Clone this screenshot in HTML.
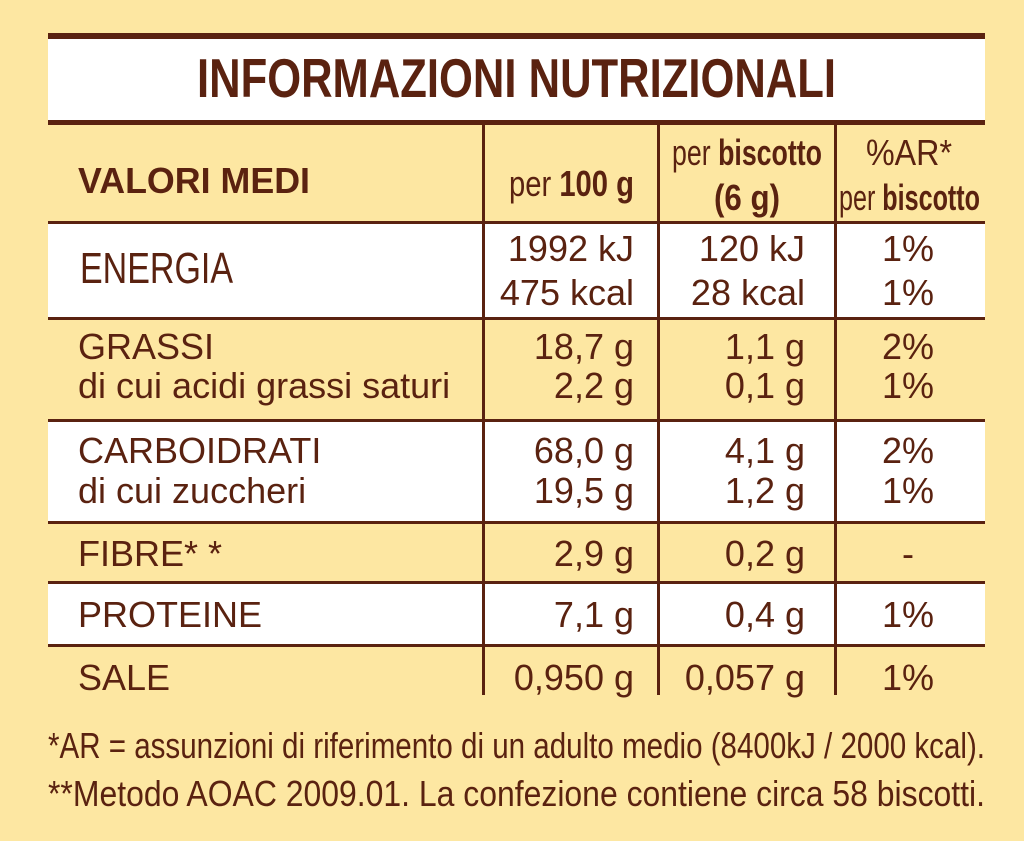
<!DOCTYPE html>
<html><head><meta charset="utf-8"><style>
html,body{margin:0;padding:0;background:#fde7a2;}
svg{display:block}
text{font-family:"Liberation Sans Narrow","Liberation Sans",sans-serif;fill:#5a2210;}
</style></head><body>
<svg width="1024" height="841" viewBox="0 0 1024 841" xmlns="http://www.w3.org/2000/svg">
<rect width="1024" height="841" fill="#fde7a2"/>
<rect x="48" y="39" width="937" height="82" fill="#fff"/>
<rect x="48" y="223" width="937" height="95" fill="#fff"/>
<rect x="48" y="421" width="937" height="101" fill="#fff"/>
<rect x="48" y="583" width="937" height="62" fill="#fff"/>
<g fill="#5a2210">
<rect x="48" y="33" width="937" height="6"/>
<rect x="48" y="120" width="937" height="5"/>
<rect x="48" y="221" width="937" height="3"/>
<rect x="48" y="317" width="937" height="3"/>
<rect x="48" y="419" width="937" height="3"/>
<rect x="48" y="521" width="937" height="3"/>
<rect x="48" y="581" width="937" height="3"/>
<rect x="48" y="644" width="937" height="3"/>
<rect x="482" y="125" width="3" height="570"/>
<rect x="657" y="125" width="3" height="570"/>
<rect x="834" y="125" width="3" height="570"/>
</g>
<text x="197" y="97" font-size="55" font-weight="bold" textLength="639" lengthAdjust="spacingAndGlyphs">INFORMAZIONI NUTRIZIONALI</text>
<g font-size="36">
<text x="78" y="193" font-weight="bold" textLength="232" lengthAdjust="spacingAndGlyphs">VALORI MEDI</text>
<text x="509" y="196" textLength="125" lengthAdjust="spacingAndGlyphs">per <tspan font-weight="bold">100 g</tspan></text>
<text x="672" y="165" textLength="150" lengthAdjust="spacingAndGlyphs">per <tspan font-weight="bold">biscotto</tspan></text>
<text x="714" y="210" font-weight="bold" textLength="66" lengthAdjust="spacingAndGlyphs">(6 g)</text>
<text x="866" y="165" textLength="86" lengthAdjust="spacingAndGlyphs">%AR*</text>
<text x="839" y="210" textLength="141" lengthAdjust="spacingAndGlyphs">per <tspan font-weight="bold">biscotto</tspan></text>

<text x="80" y="283" font-size="44" textLength="153" lengthAdjust="spacingAndGlyphs">ENERGIA</text>
<text x="634" y="261" text-anchor="end">1992 kJ</text>
<text x="634" y="305" text-anchor="end">475 kcal</text>
<text x="805" y="261" text-anchor="end">120 kJ</text>
<text x="805" y="305" text-anchor="end">28 kcal</text>
<text x="908" y="261" text-anchor="middle">1%</text>
<text x="908" y="305" text-anchor="middle">1%</text>

<text x="78" y="359">GRASSI</text>
<text x="78" y="398">di cui acidi grassi saturi</text>
<text x="634" y="359" text-anchor="end">18,7 g</text>
<text x="634" y="398" text-anchor="end">2,2 g</text>
<text x="805" y="359" text-anchor="end">1,1 g</text>
<text x="805" y="398" text-anchor="end">0,1 g</text>
<text x="908" y="359" text-anchor="middle">2%</text>
<text x="908" y="398" text-anchor="middle">1%</text>

<text x="78" y="463">CARBOIDRATI</text>
<text x="78" y="503">di cui zuccheri</text>
<text x="634" y="463" text-anchor="end">68,0 g</text>
<text x="634" y="503" text-anchor="end">19,5 g</text>
<text x="805" y="463" text-anchor="end">4,1 g</text>
<text x="805" y="503" text-anchor="end">1,2 g</text>
<text x="908" y="463" text-anchor="middle">2%</text>
<text x="908" y="503" text-anchor="middle">1%</text>

<text x="78" y="566">FIBRE* *</text>
<text x="634" y="566" text-anchor="end">2,9 g</text>
<text x="805" y="566" text-anchor="end">0,2 g</text>
<text x="908" y="566" text-anchor="middle">-</text>

<text x="78" y="627">PROTEINE</text>
<text x="634" y="627" text-anchor="end">7,1 g</text>
<text x="805" y="627" text-anchor="end">0,4 g</text>
<text x="908" y="627" text-anchor="middle">1%</text>

<text x="78" y="690">SALE</text>
<text x="634" y="690" text-anchor="end">0,950 g</text>
<text x="805" y="690" text-anchor="end">0,057 g</text>
<text x="908" y="690" text-anchor="middle">1%</text>

<text x="48" y="758" textLength="937" lengthAdjust="spacingAndGlyphs">*AR = assunzioni di riferimento di un adulto medio (8400kJ / 2000 kcal).</text>
<text x="48" y="806" textLength="937" lengthAdjust="spacingAndGlyphs">**Metodo AOAC 2009.01. La confezione contiene circa 58 biscotti.</text>
</g>
</svg>
</body></html>
